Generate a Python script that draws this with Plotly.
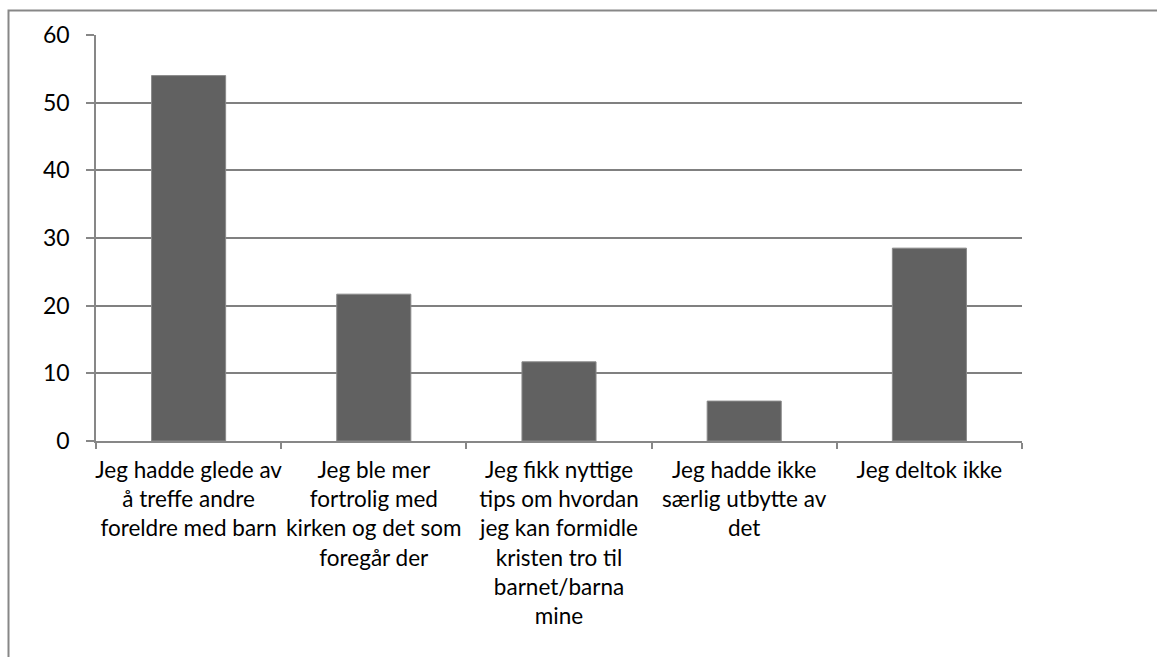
import plotly.graph_objects as go

categories = [
    "Jeg hadde glede av<br>å treffe andre<br>foreldre med barn",
    "Jeg ble mer<br>fortrolig med<br>kirken og det som<br>foregår der",
    "Jeg fikk nyttige<br>tips om hvordan<br>jeg kan formidle<br>kristen tro til<br>barnet/barna<br>mine",
    "Jeg hadde ikke<br>særlig utbytte av<br>det",
    "Jeg deltok ikke",
]
values = [54, 21.7, 11.7, 5.9, 28.5]
y_ticks = [0, 10, 20, 30, 40, 50, 60]

W, H = 1157, 657
L, R, T, B = 96, 1022, 35, 441

fig = go.Figure(
    go.Bar(
        x=categories,
        y=values,
        width=0.4,
        marker=dict(color="#616161", line=dict(color="#8a8a8a", width=1)),
    )
)

pw, ph = R - L, B - T
def px_to_paper(x, y):
    return (x - L) / pw, (B - y) / ph

x0, y0 = px_to_paper(8.5, 10.5)
x1, y1 = px_to_paper(3000, 3000)

fig.add_shape(
    type="rect", xref="paper", yref="paper",
    x0=x0, y0=y1, x1=x1, y1=y0,
    line=dict(color="#878787", width=2), fillcolor="rgba(0,0,0,0)", layer="below",
)

fig.update_layout(
    width=W, height=H,
    margin=dict(l=L, r=W - R, t=T, b=H - B, pad=0),
    paper_bgcolor="white", plot_bgcolor="white",
    font=dict(family="Lato, Carlito, Calibri, sans-serif", size=22, color="#000000"),
    showlegend=False,
    bargap=0.6,
    xaxis=dict(
        showgrid=False,
        showline=True, linecolor="#878787", linewidth=1.5,
        ticks="outside", tickson="boundaries", ticklen=6, tickcolor="#878787", tickwidth=1.5,
        tickfont=dict(size=22.5),
        tickangle=0,
        ticklabelstandoff=8,
    ),
    yaxis=dict(
        range=[0, 60],
        tickvals=y_ticks,
        showgrid=True, gridcolor="#808080", gridwidth=1.5,
        showline=True, linecolor="#878787", linewidth=1.5,
        ticks="outside", ticklen=8, tickcolor="#878787", tickwidth=1.5,
        tickfont=dict(size=23),
        ticklabelstandoff=12,
        zeroline=False,
    ),
)

fig.write_html("out.html", config={"displayModeBar": False})

with open("out.html", "r", encoding="utf-8") as f:
    html = f.read()
html = html.replace("<body>", '<body style="margin:0;overflow:hidden">', 1)
with open("out.html", "w", encoding="utf-8") as f:
    f.write(html)
